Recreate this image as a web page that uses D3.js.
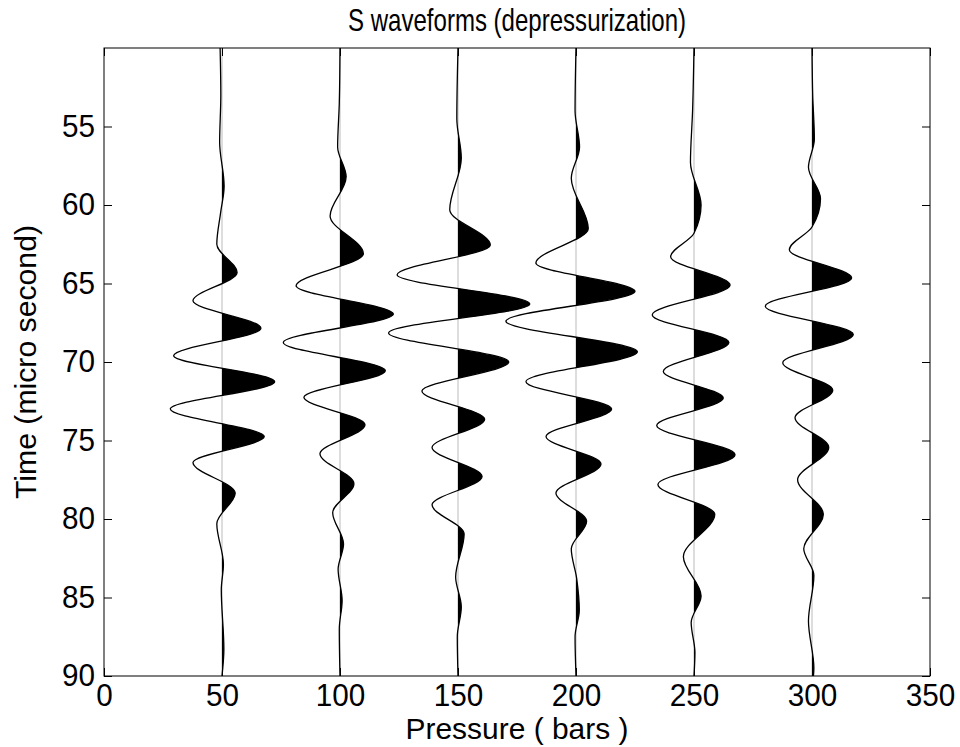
<!DOCTYPE html>
<html>
<head>
<meta charset="utf-8">
<script src="https://cdn.jsdelivr.net/npm/d3@7"></script>
<style>
  body { margin: 0; background: #fff; }
  svg { display: block; }
  text { font-family: "Liberation Sans", Arial, Helvetica, sans-serif; fill: #000; }
</style>
</head>
<body>
<div id="chart"></div>
<script>
// pressures (bars) and one waveform per pressure: [time (micro s), amplitude (bars)]
const pressures = [50, 100, 150, 200, 250, 300];

const wave50 = [[50, -0.8], [53, -0.5], [56, -1.0], [58.8, 0.9], [60.5, -0.6], [62.5, -2.2],
  [64.3, 6.4], [66.1, -12.3], [67.85, 16.5], [69.6, -20.5], [71.25, 22.3], [73.0, -21.9],
  [74.75, 17.9], [76.4, -12.3], [78.35, 5.6], [80.3, -2.2], [82.9, 0.6], [84.5, -0.3],
  [88.3, 0.8], [90, 0]];
const wave100 = [[50, 0], [53.5, -0.3], [56.3, -1.0], [58.2, 2.6], [60.7, -4.2], [63.1, 9.9],
  [65.15, -18.6], [66.95, 22.6], [68.75, -24.0], [70.55, 19.2], [72.25, -15.3], [74.0, 10.6],
  [75.85, -8.5], [77.75, 5.9], [79.6, -3.1], [81.6, 1.5], [83.2, -0.8], [85.2, 0.9],
  [87, -0.3], [90, 0]];
const wave150 = [[50, 0], [54.5, -0.5], [57.0, 1.4], [60.3, -3.5], [62.55, 13.7], [64.45, -25.8],
  [66.3, 30.4], [68.15, -29.4], [70.0, 21.5], [71.85, -15.3], [73.65, 11.3], [75.45, -11.0],
  [77.3, 10.2], [79.1, -11.0], [80.95, 2.6], [83.7, -1.0], [85.6, 1.4], [87.5, -0.3], [90, 0]];
const wave200 = [[50, 0], [54, -0.4], [56.3, 1.5], [58.3, -2.0], [61.5, 5.2], [63.7, -17.0],
  [65.5, 25.0], [67.4, -29.7], [69.35, 26.0], [71.25, -21.2], [73.0, 15.1], [74.75, -12.7],
  [76.5, 10.6], [78.35, -8.5], [80.15, 4.5], [81.9, -2.0], [83.8, 0.3], [85.8, 1.4],
  [87.5, -0.4], [90, 0]];
const wave250 = [[50, 0], [54, -0.6], [57.3, -1.5], [60.0, 3.0], [61.8, 0], [63.3, -9.9],
  [65.1, 15.3], [67.0, -17.7], [68.75, 14.8], [70.6, -13.0], [72.3, 12.4], [74.05, -15.8],
  [75.9, 17.4], [77.8, -15.3], [79.7, 8.8], [82.4, -4.5], [84.9, 3.0], [86.6, -1.2],
  [88.5, 0.4], [90, 0]];
const wave300 = [[50, 0], [53, 0.3], [55.8, 1.0], [57.6, -1.5], [59.6, 3.6], [61.4, 0],
  [62.85, -9.6], [64.65, 16.8], [66.45, -19.8], [68.25, 17.5], [70.05, -12.4], [71.8, 8.8],
  [73.55, -7.2], [75.45, 7.1], [77.5, -6.1], [79.7, 4.8], [81.9, -3.5], [83.6, 0.8],
  [86.5, -1.5], [89.5, 0.8], [90, 0.6]];
const waves = [wave50, wave100, wave150, wave200, wave250, wave300];

const xTicks = [0, 50, 100, 150, 200, 250, 300, 350];
const yTicks = [55, 60, 65, 70, 75, 80, 85, 90];

const width = 960, height = 747;
const margin = {top: 48, right: 30, bottom: 71, left: 104};

const svg = d3.select("#chart").append("svg")
  .attr("width", width)
  .attr("height", height);

const x = d3.scaleLinear().domain([0, 350]).range([margin.left, width - margin.right]);
const y = d3.scaleLinear().domain([50, 90]).range([margin.top, height - margin.bottom]);

svg.append("clipPath").attr("id", "plot-clip")
  .append("rect")
  .attr("x", x(0)).attr("y", y(50))
  .attr("width", x(350) - x(0)).attr("height", y(90) - y(50));

const plot = svg.append("g").attr("clip-path", "url(#plot-clip)");

pressures.forEach(function (p, i) {
  const data = waves[i];
  const base = x(p);

  // clip for the filled (positive) half of the trace
  svg.append("clipPath").attr("id", "pos-" + p)
    .append("rect")
    .attr("x", base).attr("y", y(50))
    .attr("width", 200).attr("height", y(90) - y(50));

  const area = d3.area()
    .y(d => y(d[0]))
    .x0(base)
    .x1(d => x(p + d[1]))
    .curve(d3.curveMonotoneY);

  const line = d3.line()
    .y(d => y(d[0]))
    .x(d => x(p + d[1]))
    .curve(d3.curveMonotoneY);

  plot.append("line")
    .attr("x1", base).attr("x2", base)
    .attr("y1", y(50)).attr("y2", y(90))
    .attr("stroke", "#aaa")
    .attr("stroke-width", 0.8);

  plot.append("path")
    .datum(data)
    .attr("d", area)
    .attr("fill", "#000")
    .attr("clip-path", "url(#pos-" + p + ")");

  plot.append("path")
    .datum(data)
    .attr("d", line)
    .attr("fill", "none")
    .attr("stroke", "#000")
    .attr("stroke-width", 1.3);
});

// axes, MATLAB style: inward ticks on all four sides
const tickFont = 31;

function styleLabels(g) {
  g.select(".domain").remove();
  g.selectAll(".tick line").attr("stroke", "#000");
  g.selectAll(".tick text")
    .attr("font-size", tickFont)
    .attr("fill", "#000")
    .attr("textLength", function () { return this.textContent.length * 16.5; })
    .attr("lengthAdjust", "spacingAndGlyphs");
}

svg.append("g")
  .attr("transform", "translate(0," + y(90) + ")")
  .call(d3.axisBottom(x).tickValues(xTicks).tickSize(-8).tickSizeOuter(0).tickPadding(8))
  .call(styleLabels);

svg.append("g")
  .attr("transform", "translate(" + x(0) + ",0)")
  .call(d3.axisLeft(y).tickValues(yTicks).tickSize(-8).tickSizeOuter(0).tickPadding(9))
  .call(styleLabels);

svg.append("g")
  .attr("transform", "translate(0," + y(50) + ")")
  .call(d3.axisTop(x).tickValues(xTicks).tickSize(-8).tickSizeOuter(0).tickFormat(""))
  .call(styleLabels);

svg.append("g")
  .attr("transform", "translate(" + x(350) + ",0)")
  .call(d3.axisRight(y).tickValues(yTicks).tickSize(-8).tickSizeOuter(0).tickFormat(""))
  .call(styleLabels);

svg.append("rect")
  .attr("x", x(0)).attr("y", y(50))
  .attr("width", x(350) - x(0)).attr("height", y(90) - y(50))
  .attr("fill", "none")
  .attr("stroke", "#000")
  .attr("stroke-width", 1);

// titles
const midX = (x(0) + x(350)) / 2;

svg.append("text")
  .attr("x", midX).attr("y", 31)
  .attr("text-anchor", "middle")
  .attr("font-size", 32)
  .attr("textLength", 338)
  .attr("lengthAdjust", "spacingAndGlyphs")
  .text("S waveforms (depressurization)");

svg.append("text")
  .attr("x", midX).attr("y", 739)
  .attr("text-anchor", "middle")
  .attr("font-size", 29)
  .attr("textLength", 223)
  .attr("lengthAdjust", "spacingAndGlyphs")
  .text("Pressure ( bars )");

svg.append("text")
  .attr("transform", "translate(36," + (y(50) + y(90)) / 2 + ") rotate(-90)")
  .attr("text-anchor", "middle")
  .attr("font-size", 30)
  .attr("textLength", 274)
  .attr("lengthAdjust", "spacingAndGlyphs")
  .text("Time (micro second)");
</script>
</body>
</html>
